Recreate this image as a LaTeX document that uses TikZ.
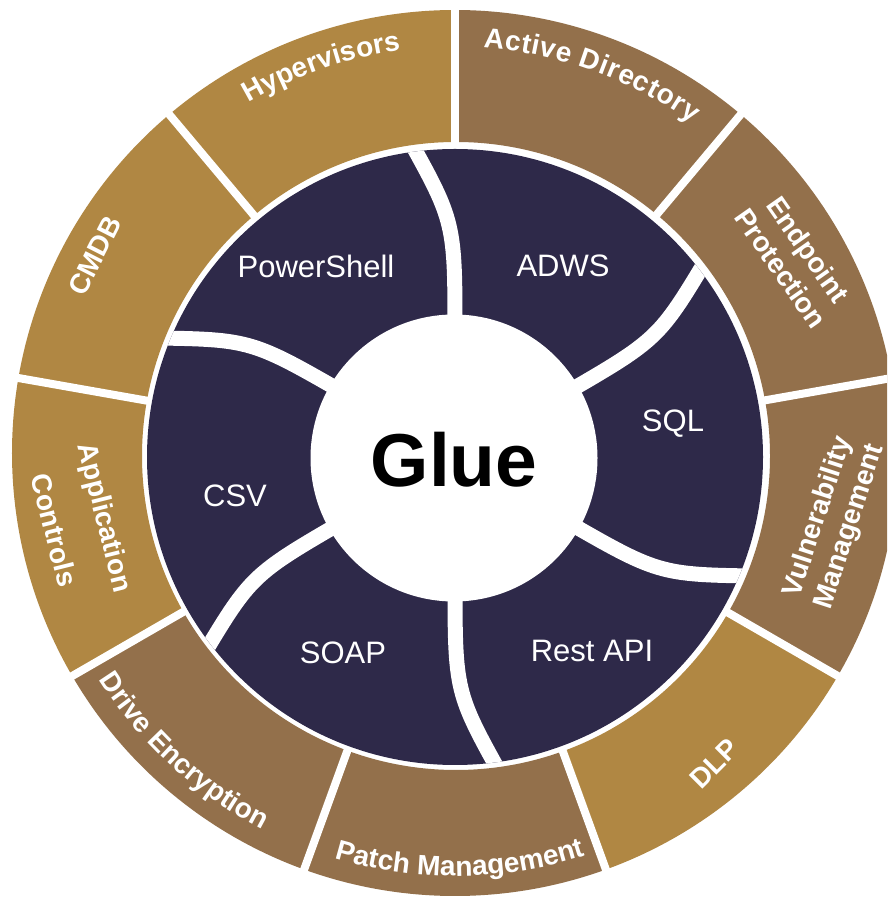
\documentclass[tikz,border=0pt]{standalone}
\usepackage{fontspec}
\setmainfont{Liberation Sans}
\usetikzlibrary{calc,decorations.text}
\definecolor{ringgold}{HTML}{B08743}
\definecolor{ringbrown}{HTML}{93704B}
\definecolor{navy}{HTML}{2E2949}
\newcommand\outerlbl{\fontsize{28pt}{28pt}\selectfont\bfseries}
\begin{document}
\begin{tikzpicture}[x=1pt,y=1pt,
  gapline/.style={white,line width=8pt},
  sepline/.style={white,line width=15pt},
  innerlbl/.style={text=white,font=\fontsize{31pt}{31pt}\selectfont,anchor=base,inner sep=0pt},
  outerstraight/.style={text=white,font=\fontsize{28pt}{33pt}\selectfont\bfseries,align=center,inner sep=0pt},
  curvedlbl/.style={decorate,decoration={text along path,text={|\outerlbl|#1},text align=center,text color=white}},
  fitlbl/.style={decorate,decoration={text along path,text={|\outerlbl|#1},text align=fit to path,text color=white}}
]
\useasboundingbox (0,0) rectangle (887,897);
\clip (0,0) rectangle (887,897);
\coordinate (Co) at (455,444);
\coordinate (Ci) at (456,441);
\coordinate (C) at (455,442);
\coordinate (Cd) at (455,440);
% outer ring
\foreach \a/\b/\c in {130/90/ringgold, 90/50/ringbrown, 50/10/ringbrown, 10/-30/ringbrown, -30/-70/ringgold, -70/-110/ringbrown, -110/-150/ringbrown, -150/-190/ringgold, 170/130/ringgold}
  \fill[\c] ($(Co)+(\a:443pt)$) arc[start angle=\a, end angle=\b, radius=443pt] -- ($(Ci)+(\b:314pt)$) arc[start angle=\b, end angle=\a, radius=314pt] -- cycle;
\foreach \a in {90,50,10,-30,-70,-110,-150,170,130}
  \draw[gapline] ($(C)+(\a:290pt)$) -- ($(C)+(\a:470pt)$);
% inner ring
\fill[navy] (Cd) circle[radius=308pt];
\begin{scope}
  \clip (Cd) circle[radius=308pt];
  \foreach \a in {90,30,-30,-90,-150,150}
    \draw[sepline] ($(Cd)+(\a:120pt)$) .. controls ($(Cd)+(\a:235pt)$) .. ($(Cd)+({\a+8.5}:325pt)$);
\end{scope}
\fill[white] (454,439) circle[radius=143.5pt];
\node[font=\fontsize{75pt}{75pt}\selectfont\bfseries,anchor=base,inner sep=0pt] (glue) at (454,410) {Glue};
% inner labels
\node[innerlbl] (ps) at (316,619) {PowerShell};
\node[innerlbl] (adws) at (563,620) {ADWS};
\node[innerlbl] (sql) at (673,465) {SQL};
\node[innerlbl] (csv) at (235,390) {CSV};
\node[innerlbl] (soap) at (343,233) {SOAP};
\node[innerlbl] (rest) at (592,235) {Rest API};
% outer straight labels
\node[outerstraight,rotate=-55] (ep) at ($(C)+(30:392pt)$) {Endpoint\\Protection};
\node[outerstraight,rotate=72] (vm) at ($(C)+(-10:385pt)$) {Vulnerability\\Management};
\node[outerstraight,rotate=-76] (ac) at ($(C)+(190.4:381pt)$) {Application\\[20pt]Controls};
\node[outerstraight,rotate=63] (cmdb) at ($(C)+(151:412pt)$) {CMDB};
\node[outerstraight,rotate=45] (dlp) at ($(C)+(-50:403pt)$) {DLP};
% outer curved labels
\path[curvedlbl=Hypervisors] ($(C)+(129:408pt)$) arc[start angle=129, end angle=89, radius=408pt];
\path[fitlbl={Active Directory}] ($(C)+(86:408pt)$) arc[start angle=86, end angle=54.5, radius=408pt];
\path[curvedlbl={Drive Encryption}] ($(C)+(-152.5:421pt)$) arc[start angle=-152.5, end angle=-112.5, radius=421pt];
\path[curvedlbl={Patch Management}] ($(C)+(-109.3:421pt)$) arc[start angle=-109.3, end angle=-69.3, radius=421pt];
\end{tikzpicture}
\end{document}
